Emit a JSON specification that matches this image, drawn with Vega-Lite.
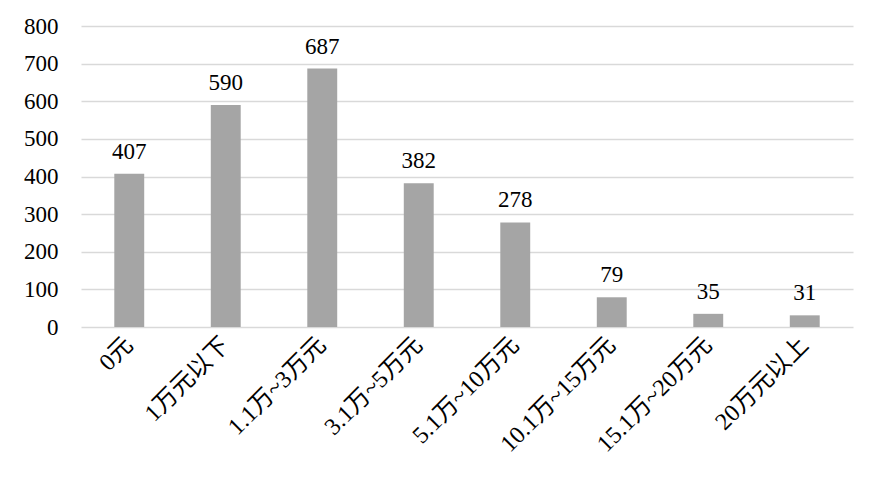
{
  "$schema": "https://vega.github.io/schema/vega-lite/v6.json",
  "width": 772,
  "height": 301,
  "autosize": {"type": "none"},
  "padding": {"left": 81, "top": 26, "right": 19, "bottom": 152},
  "background": "white",
  "data": {"values": [
    {"category": "0元", "count": 407},
    {"category": "1万元以下", "count": 590},
    {"category": "1.1万~3万元", "count": 687},
    {"category": "3.1万~5万元", "count": 382},
    {"category": "5.1万~10万元", "count": 278},
    {"category": "10.1万~15万元", "count": 79},
    {"category": "15.1万~20万元", "count": 35},
    {"category": "20万元以上", "count": 31}
  ]},
  "encoding": {
    "x": {
      "field": "category", "type": "nominal", "sort": null,
      "scale": {"paddingInner": 0.69, "paddingOuter": 0.345},
      "axis": {
        "title": null, "labelAngle": -45, "labelAlign": "right", "labelBaseline": "middle",
        "labelPadding": 14, "ticks": false, "domain": false,
        "labelFont": "Liberation Serif, Noto Sans CJK SC", "labelFontSize": 24, "labelColor": "#000000"
      }
    },
    "y": {
      "field": "count", "type": "quantitative",
      "scale": {"domain": [0, 800], "nice": false},
      "axis": {
        "title": null, "values": [0, 100, 200, 300, 400, 500, 600, 700, 800],
        "ticks": false, "domain": false, "labelPadding": 23,
        "labelFont": "Liberation Serif", "labelFontSize": 23, "labelColor": "#000000",
        "gridColor": "#d9d9d9", "gridWidth": 1.5
      }
    }
  },
  "layer": [
    {"mark": {"type": "bar", "color": "#a5a5a5"}},
    {"mark": {"type": "text", "baseline": "alphabetic", "dy": -15, "font": "Liberation Serif", "fontSize": 23, "color": "#000000"},
     "encoding": {"text": {"field": "count", "type": "quantitative"}}}
  ],
  "config": {"view": {"stroke": null}}
}
